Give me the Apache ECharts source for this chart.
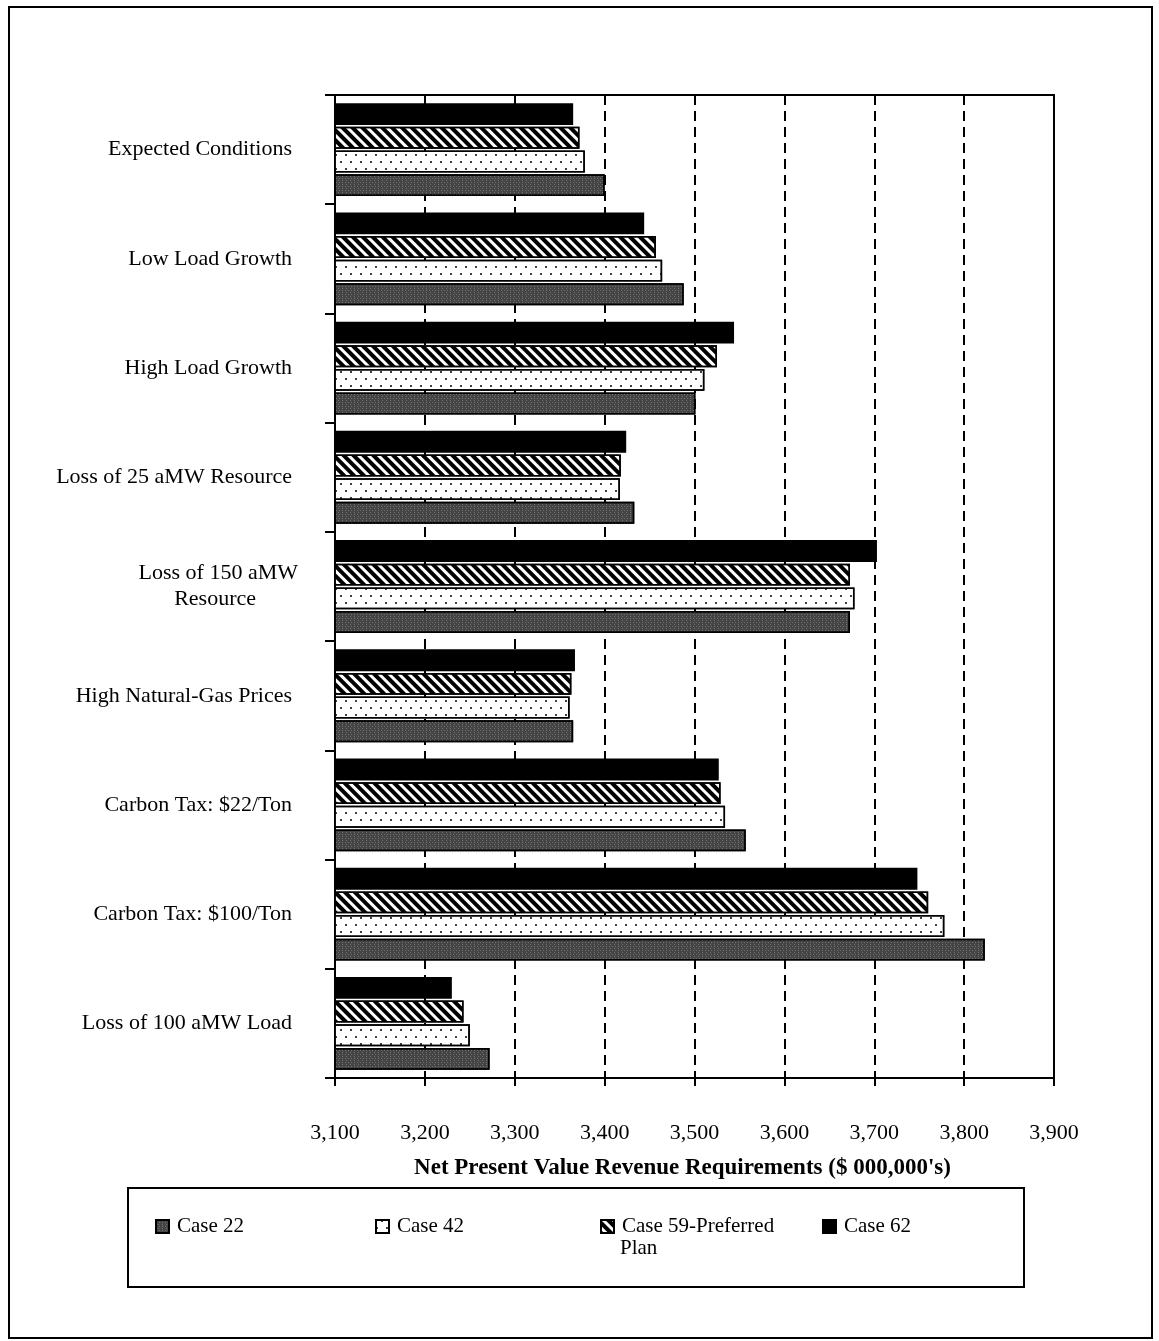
<!DOCTYPE html>
<html>
<head>
<meta charset="utf-8">
<script src="https://cdn.jsdelivr.net/npm/echarts@6/dist/echarts.min.js"></script>
<style>
  html, body { margin: 0; padding: 0; background: #fff; }
  #chart { width: 1159px; height: 1341px; }
</style>
</head>
<body>
<div id="chart"></div>
<script>
const categories = [
  'Expected Conditions',
  'Low Load Growth',
  'High Load Growth',
  'Loss of 25 aMW Resource',
  'Loss of 150 aMW\nResource',
  'High Natural-Gas Prices',
  'Carbon Tax: $22/Ton',
  'Carbon Tax: $100/Ton',
  'Loss of 100 aMW Load'
];
const case22 = [3400, 3488, 3501, 3433, 3673, 3365, 3557, 3823, 3272];
const case42 = [3378, 3464, 3511, 3417, 3678, 3361, 3534, 3778, 3250];
const case59 = [3372, 3457, 3525, 3418, 3673, 3363, 3529, 3760, 3243];
const case62 = [3365, 3444, 3544, 3424, 3703, 3367, 3527, 3748, 3230];
const xTicks = [3100, 3200, 3300, 3400, 3500, 3600, 3700, 3800, 3900];

const FONT = 'Liberation Serif';
const chart = echarts.init(document.getElementById('chart'));

const decal22 = { symbol: 'rect', symbolSize: 1, color: 'rgba(160,160,160,0.5)', dashArrayX: [[1, 2], [0, 1.5, 1, 0.5]], dashArrayY: [1, 1] };
const decal42 = { symbol: 'circle', symbolSize: 1, color: '#000', dashArrayX: [[2, 8], [0, 5, 2, 3]], dashArrayY: [2, 5] };
const decal59 = { symbol: 'rect', symbolSize: 1, color: '#000', dashArrayX: [1, 0], dashArrayY: [3.3, 2.7], rotation: Math.PI / 4 };

function mkSeries(name, data, color, decal) {
  const s = {
    name: name,
    type: 'bar',
    data: data,
    barGap: '8%',
    barCategoryGap: '15%',
    itemStyle: { color: color, borderColor: '#000', borderWidth: 1.5 }
  };
  if (decal) s.itemStyle.decal = decal;
  return s;
}

function mkLegend(name, left) {
  return {
    left: left, top: 1211,
    itemWidth: 13, itemHeight: 13, icon: 'rect',
    data: [name],
    selectedMode: false,
    formatter: n => n === 'Case 59-Preferred Plan' ? 'Case 59-Preferred' : n,
    textStyle: { fontFamily: FONT, fontSize: 21, color: '#000', padding: [0, 0, 0, 3] }
  };
}

const option = {
  backgroundColor: '#fff',
  animation: false,
  grid: { left: 335, top: 95, right: 105, bottom: 263, show: true, borderColor: '#000', borderWidth: 2, backgroundColor: 'transparent' },
  xAxis: {
    type: 'value',
    min: xTicks[0], max: xTicks[xTicks.length - 1], interval: 100,
    axisLine: { show: true, lineStyle: { color: '#000', width: 2 } },
    axisTick: { show: true, length: 8, lineStyle: { color: '#000', width: 2 } },
    axisLabel: { margin: 44, color: '#000', fontFamily: FONT, fontSize: 22,
      formatter: v => v.toLocaleString('en-US') },
    splitLine: { show: true, lineStyle: { color: '#000', width: 2, type: [10, 6] } },
    name: "Net Present Value Revenue Requirements ($ 000,000's)",
    nameLocation: 'middle', nameGap: 79,
    nameTextStyle: { fontFamily: FONT, fontSize: 23, fontWeight: 'bold', color: '#000', padding: [0, 24, 0, 0] }
  },
  yAxis: {
    type: 'category', data: categories, inverse: true,
    axisLine: { show: true, lineStyle: { color: '#000', width: 2 } },
    axisTick: { show: true, length: 10, lineStyle: { color: '#000', width: 2 } },
    axisLabel: {
      margin: 43, color: '#000', fontFamily: FONT, fontSize: 22, align: 'right', lineHeight: 26,
      formatter: v => {
        const parts = v.split('\n');
        if (parts.length === 1) return v;
        return '{a|' + parts[0] + '}\n{b|' + parts[1] + '}';
      },
      rich: {
        a: { fontFamily: FONT, fontSize: 22, color: '#000', lineHeight: 26, padding: [0, -6, 0, 0] },
        b: { fontFamily: FONT, fontSize: 22, color: '#000', lineHeight: 26, padding: [0, 36, 0, 0] }
      }
    },
    splitLine: { show: false }
  },
  legend: [
    mkLegend('Case 22', 150),
    mkLegend('Case 42', 370),
    mkLegend('Case 59-Preferred Plan', 595),
    mkLegend('Case 62', 817)
  ],
  graphic: [
    { type: 'rect', shape: { x: 9, y: 7, width: 1143, height: 1331 }, style: { fill: 'none', stroke: '#000', lineWidth: 2 } },
    { type: 'rect', shape: { x: 128, y: 1188, width: 896, height: 99 }, style: { fill: 'none', stroke: '#000', lineWidth: 2 } },
    { type: 'text', left: 620, top: 1238, style: { text: 'Plan', font: '21px "Liberation Serif"', fill: '#000' } }
  ],
  series: [
    mkSeries('Case 62', case62, '#000', null),
    mkSeries('Case 59-Preferred Plan', case59, '#fff', decal59),
    mkSeries('Case 42', case42, '#fff', decal42),
    mkSeries('Case 22', case22, '#444', decal22)
  ]
};
chart.setOption(option);
</script>
</body>
</html>
